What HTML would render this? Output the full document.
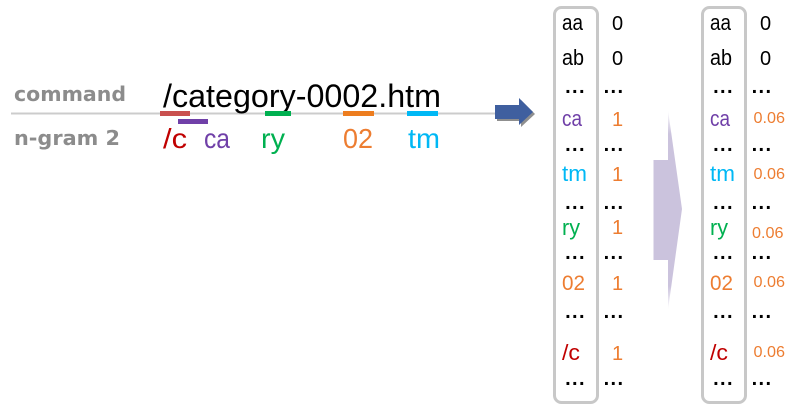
<!DOCTYPE html>
<html>
<head>
<meta charset="utf-8">
<style>
html,body{margin:0;padding:0;background:#fff;width:800px;height:413px;overflow:hidden}
svg{display:block}
text{font-family:"Liberation Sans",sans-serif}
.k{font-size:22px;fill:#000}
.pu{font-size:22px;fill:#7040a8}
.bl{font-size:22px;fill:#00b8f5}
.gr{font-size:22px;fill:#00b050}
.or{font-size:21px;fill:#ed7d31}
.re{font-size:22px;fill:#c00000}
.d{font-size:20px;font-weight:bold;fill:#000;letter-spacing:1.4px;text-anchor:middle}
.n{font-size:20px;text-anchor:middle}
.s{font-size:15.5px;fill:#ed7d31}
</style>
</head>
<body>
<svg width="800" height="413" viewBox="0 0 800 413" xmlns="http://www.w3.org/2000/svg">
<defs>
<linearGradient id="g" x1="0" y1="0" x2="0" y2="1">
<stop offset="0" stop-color="#fff"/>
<stop offset="0.12" stop-color="#cbc3dd"/>
<stop offset="0.88" stop-color="#cbc3dd"/>
<stop offset="1" stop-color="#fff"/>
</linearGradient>
</defs>

<line x1="11" y1="113.5" x2="496" y2="113.5" stroke="#cccccc" stroke-width="2"/>
<text x="14" y="101" font-size="20" font-weight="bold" fill="#8c8c8c" textLength="112" lengthAdjust="spacingAndGlyphs" style="font-family:'DejaVu Sans',sans-serif">command</text>
<text x="14" y="145" font-size="20" font-weight="bold" fill="#8c8c8c" textLength="106" lengthAdjust="spacingAndGlyphs" style="font-family:'DejaVu Sans',sans-serif">n-gram 2</text>
<text x="163" y="107" font-size="32" fill="#000" textLength="278" lengthAdjust="spacingAndGlyphs">/category-0002.htm</text>

<rect x="160" y="111" width="30" height="5" fill="#c9504f"/>
<rect x="178" y="119" width="30" height="5" fill="#7040a8"/>
<rect x="265" y="111" width="26" height="5" fill="#00b050"/>
<rect x="343" y="111" width="31" height="5" fill="#ed7d1f"/>
<rect x="407" y="111" width="31" height="5" fill="#00b8f5"/>

<text x="163" y="148" font-size="28" fill="#c00000" textLength="24" lengthAdjust="spacingAndGlyphs">/c</text>
<text x="204" y="148" font-size="28" fill="#7040a8" textLength="26" lengthAdjust="spacingAndGlyphs">ca</text>
<text x="261" y="148" font-size="28" fill="#00b050" textLength="24" lengthAdjust="spacingAndGlyphs">ry</text>
<text x="343" y="148" font-size="28" fill="#ed7d31" textLength="30" lengthAdjust="spacingAndGlyphs">02</text>
<text x="408" y="148" font-size="28" fill="#00b8f5" textLength="32" lengthAdjust="spacingAndGlyphs">tm</text>

<polygon points="497,107 521,107 521,100 535,114 521,127 521,121 497,121" fill="#8f8f8f"/>
<polygon points="495,105 519,105 519,98 533,112 519,125 519,119 495,119" fill="#3f5f9f"/>

<polygon points="668,110 682,209 668,310 668,260 653.5,260 653.5,160 668,160" fill="url(#g)"/>

<rect x="554.5" y="7.5" width="43" height="395" rx="7" fill="none" stroke="#c8c8c8" stroke-width="3"/>
<rect x="702.5" y="7.5" width="43" height="395" rx="7" fill="none" stroke="#c8c8c8" stroke-width="3"/>

<!-- left column -->
<text x="562" y="30" class="k" textLength="21" lengthAdjust="spacingAndGlyphs">aa</text>
<text x="562" y="65" class="k" textLength="22" lengthAdjust="spacingAndGlyphs">ab</text>
<text x="575.5" y="93" class="d">...</text>
<text x="562" y="126" class="pu" textLength="20" lengthAdjust="spacingAndGlyphs">ca</text>
<text x="575.5" y="151" class="d">...</text>
<text x="562" y="181" class="bl" textLength="25" lengthAdjust="spacingAndGlyphs">tm</text>
<text x="575.5" y="209" class="d">...</text>
<text x="562" y="235" class="gr" textLength="18" lengthAdjust="spacingAndGlyphs">ry</text>
<text x="575.5" y="259" class="d">...</text>
<text x="562" y="290" class="or" textLength="23" lengthAdjust="spacingAndGlyphs">02</text>
<text x="575.5" y="318" class="d">...</text>
<text x="562" y="360" class="re" textLength="18" lengthAdjust="spacingAndGlyphs">/c</text>
<text x="575.5" y="385" class="d">...</text>

<text x="617.5" y="30" class="n" fill="#000">0</text>
<text x="617.5" y="65" class="n" fill="#000">0</text>
<text x="614" y="93" class="d">...</text>
<text x="617.5" y="126" class="n" fill="#ed7d31">1</text>
<text x="614" y="151" class="d">...</text>
<text x="617.5" y="181" class="n" fill="#ed7d31">1</text>
<text x="614" y="209" class="d">...</text>
<text x="617.5" y="234" class="n" fill="#ed7d31">1</text>
<text x="614" y="259" class="d">...</text>
<text x="617.5" y="290" class="n" fill="#ed7d31">1</text>
<text x="614" y="318" class="d">...</text>
<text x="617.5" y="360" class="n" fill="#ed7d31">1</text>
<text x="614" y="385" class="d">...</text>

<!-- right column -->
<text x="710" y="30" class="k" textLength="21" lengthAdjust="spacingAndGlyphs">aa</text>
<text x="710" y="65" class="k" textLength="22" lengthAdjust="spacingAndGlyphs">ab</text>
<text x="723.5" y="93" class="d">...</text>
<text x="710" y="126" class="pu" textLength="20" lengthAdjust="spacingAndGlyphs">ca</text>
<text x="723.5" y="151" class="d">...</text>
<text x="710" y="181" class="bl" textLength="25" lengthAdjust="spacingAndGlyphs">tm</text>
<text x="723.5" y="209" class="d">...</text>
<text x="710" y="235" class="gr" textLength="18" lengthAdjust="spacingAndGlyphs">ry</text>
<text x="723.5" y="259" class="d">...</text>
<text x="710" y="290" class="or" textLength="23" lengthAdjust="spacingAndGlyphs">02</text>
<text x="723.5" y="318" class="d">...</text>
<text x="710" y="360" class="re" textLength="18" lengthAdjust="spacingAndGlyphs">/c</text>
<text x="723.5" y="385" class="d">...</text>

<text x="765.5" y="30" class="n" fill="#000">0</text>
<text x="765.5" y="65" class="n" fill="#000">0</text>
<text x="762" y="93" class="d">...</text>
<text x="753.5" y="123" class="s" textLength="31.5" lengthAdjust="spacingAndGlyphs">0.06</text>
<text x="762" y="151" class="d">...</text>
<text x="753.5" y="179" class="s" textLength="31.5" lengthAdjust="spacingAndGlyphs">0.06</text>
<text x="762" y="209" class="d">...</text>
<text x="752" y="238" class="s" textLength="31.5" lengthAdjust="spacingAndGlyphs">0.06</text>
<text x="762" y="259" class="d">...</text>
<text x="753.5" y="287" class="s" textLength="31.5" lengthAdjust="spacingAndGlyphs">0.06</text>
<text x="762" y="318" class="d">...</text>
<text x="753.5" y="357" class="s" textLength="31.5" lengthAdjust="spacingAndGlyphs">0.06</text>
<text x="762" y="385" class="d">...</text>
</svg>
</body>
</html>
